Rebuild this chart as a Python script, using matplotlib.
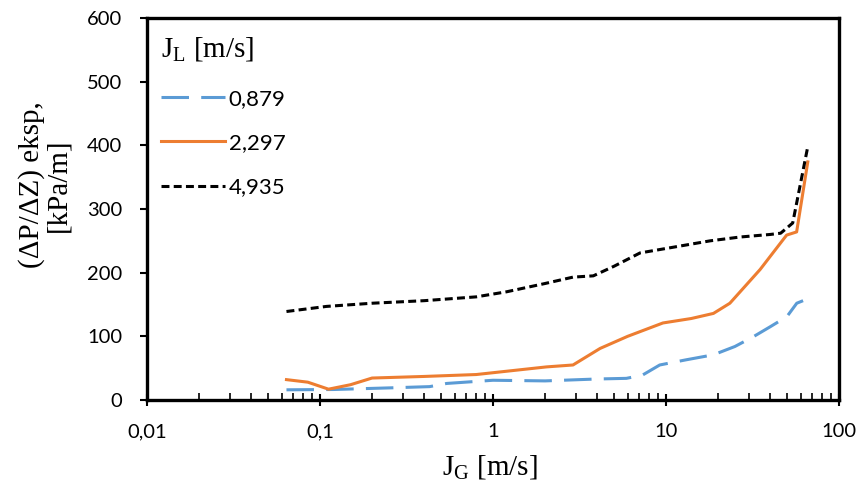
import numpy as np
import matplotlib
matplotlib.use("Agg")
import matplotlib.pyplot as plt
from matplotlib.ticker import FixedLocator, LogLocator, NullFormatter

# J_G [m/s] vs (dP/dZ) eksp [kPa/m] for three J_L values
jg_0879 = [0.064, 0.12, 0.25, 0.43, 0.54, 1.0, 2.0, 4.0, 5.9, 7.3, 9.2, 13, 18.8, 25, 31.8, 40, 50, 57, 62]
dp_0879 = [16, 16.5, 19, 21, 26, 31, 30, 33, 34, 39, 55, 63, 71, 84, 99, 115, 131, 152, 156]

jg_2297 = [0.064, 0.085, 0.112, 0.15, 0.2, 0.4, 0.8, 2.04, 2.9, 4.16, 6.0, 9.6, 14, 18.8, 23.4, 35, 49.8, 56.9, 66]
dp_2297 = [32, 28, 17, 24, 34.5, 37, 40, 52, 55, 81, 100, 121, 128, 136, 152, 205, 259, 264, 374]

jg_4935 = [0.064, 0.109, 0.2, 0.4, 0.8, 1.2, 2.0, 2.9, 3.8, 5.0, 7.08, 10, 18, 26.8, 40, 46, 54, 66]
dp_4935 = [139, 147, 152, 156, 162, 170, 183, 193, 195, 210, 231, 238, 250, 256, 260, 262, 278, 398]

sans = ["Lato", "DejaVu Sans"]
serif = ["Liberation Serif", "DejaVu Serif"]

fig = plt.figure(figsize=(8.59, 4.90), dpi=100)
ax = fig.add_axes([147 / 859, 1 - 400 / 490, (839 - 147) / 859, (400 - 18) / 490])

ax.plot(jg_0879, dp_0879, color="#5b9bd5", lw=2.2, dashes=(9, 4), label="0,879")
ax.plot(jg_2297, dp_2297, color="#ed7d31", lw=2.2, label="2,297")
ax.plot(jg_4935, dp_4935, color="black", lw=2.2, dashes=(2.6, 1.4), label="4,935")

ax.set_xscale("log")
ax.set_xlim(0.01, 100)
ax.set_ylim(0, 600)
ax.xaxis.set_major_locator(FixedLocator([0.01, 0.1, 1, 10, 100]))
ax.set_xticklabels(["0,01", "0,1", "1", "10", "100"], fontfamily=sans, fontsize=14.5)
ax.xaxis.set_minor_locator(LogLocator(base=10, subs=np.arange(2, 10)))
ax.xaxis.set_minor_formatter(NullFormatter())
ax.set_yticks(range(0, 601, 100))
ax.set_yticklabels([str(v) for v in range(0, 601, 100)], fontfamily=sans, fontsize=14.5)

ax.tick_params(axis="x", which="major", direction="inout", length=9, width=1.5, pad=12)
ax.tick_params(axis="x", which="minor", direction="in", length=5, width=1.2)
ax.tick_params(axis="y", which="major", direction="out", length=5, width=1.5, pad=13)
for s in ax.spines.values():
    s.set_linewidth(2.4)

fig.text(490 / 859, 1 - 468 / 490, r"J$_\mathregular{G}$ [m/s]", fontfamily=serif, fontsize=21,
         ha="center", va="center")
fig.text(45 / 859, 1 - 185 / 490, "(ΔP/ΔZ) eksp,\n[kPa/m]", fontfamily=serif, fontsize=21,
         rotation=90, ha="center", va="center", linespacing=1.0)

leg = ax.legend(loc="upper left", bbox_to_anchor=(-0.012, 1.012), frameon=False,
                title=r"J$_\mathregular{L}$ [m/s]", handlelength=2.9, handletextpad=0.15,
                labelspacing=1.1, borderpad=0.5, prop={"family": sans, "size": 16})
leg.get_title().set_fontfamily(serif)
leg.get_title().set_fontsize(21)
leg._legend_box.align = "left"

fig.savefig("out.png", dpi=100)
